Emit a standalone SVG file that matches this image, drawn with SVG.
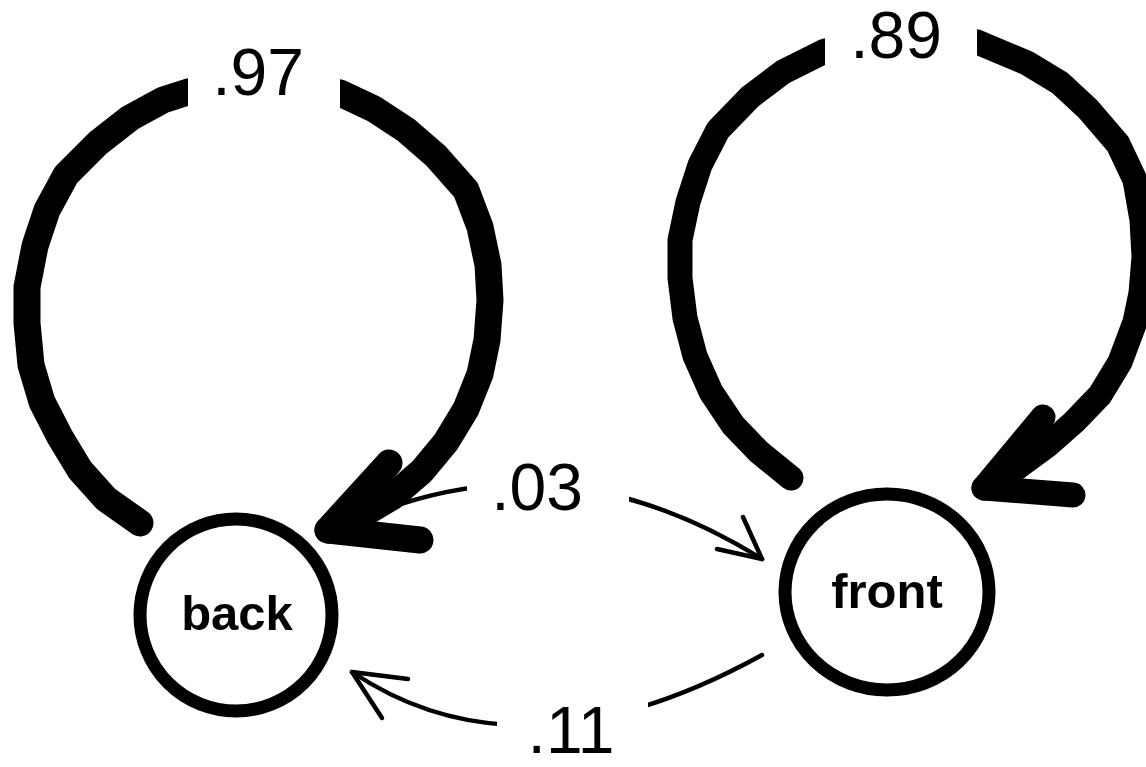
<svg xmlns="http://www.w3.org/2000/svg" width="1146" height="767" viewBox="0 0 1146 767">
<style>
.loop{fill:none;stroke:#000;stroke-linejoin:round;stroke-linecap:round}
.thin{fill:none;stroke:#000;stroke-width:4.5;stroke-linejoin:round;stroke-linecap:round}
.node{fill:#fff;stroke:#000;stroke-width:13}
.nl{font-family:"Liberation Sans",Arial,sans-serif;font-weight:bold;font-size:49px;text-anchor:middle;fill:#000}
.el{font-family:"Liberation Sans",Arial,sans-serif;font-size:66px;text-anchor:middle;fill:#000}
</style>
<defs>
<mask id="m97" maskUnits="userSpaceOnUse" x="0" y="0" width="1146" height="767"><rect width="1146" height="767" fill="#fff"/><rect x="188" y="30" width="152" height="90" fill="#000"/></mask>
<mask id="m89" maskUnits="userSpaceOnUse" x="0" y="0" width="1146" height="767"><rect width="1146" height="767" fill="#fff"/><rect x="825" y="0" width="152" height="90" fill="#000"/></mask>
<mask id="m03" maskUnits="userSpaceOnUse" x="0" y="0" width="1146" height="767"><rect width="1146" height="767" fill="#fff"/><rect x="467" y="455" width="162" height="75" fill="#000"/></mask>
<mask id="m11" maskUnits="userSpaceOnUse" x="0" y="0" width="1146" height="767"><rect width="1146" height="767" fill="#fff"/><rect x="497" y="690" width="151" height="77" fill="#000"/></mask>
</defs>
<g id="connectors">
<g id="edge-back-back">
<path class="loop" stroke-width="27" mask="url(#m97)" d="M140,523 L106,499 L80,470 L60,437 L42,402 L31,365 L27,323 L27,287 L35,246 L47,210 L66,175 L98,143 L130,118 L163,100 L188,92 L225,83 L258,80 L295,84 L340,93 L374,109 L406,130 L436,156 L466,190 L480,227 L488,265 L490,300 L487,340 L480,374 L466,409 L446,442 L422,471 L392,497 L360,516 L328,530"/>
<path class="loop" stroke-width="27" d="M389,463 L328,530 L420,540"/>
<text class="el" x="258" y="95">.97</text>
</g>
<g id="edge-front-front">
<path class="loop" stroke-width="25" mask="url(#m89)" d="M791,478 L759,452 L733,425 L711,392 L695,356 L685,318 L680,278 L680,240 L688,202 L700,165 L718,130 L750,97 L783,72 L825,51 L860,42 L901,38 L940,38 L977,42 L1027,63 L1060,83 L1088,109 L1118,144 L1135,180 L1142,220 L1144,257 L1141,293 L1135,322 L1120,362 L1100,395 L1074,422 L1048,445 L1018,467 L984,488"/>
<path class="loop" stroke-width="25" d="M1043,417 L984,488 L1073,495"/>
<text class="el" x="896" y="58" font-size="64">.89</text>
</g>
<g id="edge-back-front">
<path class="thin" mask="url(#m03)" d="M330,534 Q544,423.5 762,559"/>
<path class="thin" d="M743,517 L762,559 L717,549"/>
<text class="el" x="537" y="510">.03</text>
</g>
<g id="edge-front-back">
<path class="thin" mask="url(#m11)" d="M762,655 Q523,786.5 352,672"/>
<path class="thin" d="M408,679 L352,672 L382,718"/>
<text class="el" x="571" y="753" font-size="62">.11</text>
</g>
</g>
<g id="node-back">
<circle class="node" cx="236" cy="615" r="96"/>
<text class="nl" x="237" y="630">back</text>
</g>
<g id="node-front">
<ellipse class="node" cx="887" cy="592" rx="102" ry="98"/>
<text class="nl" x="887" y="608">front</text>
</g>
</svg>
